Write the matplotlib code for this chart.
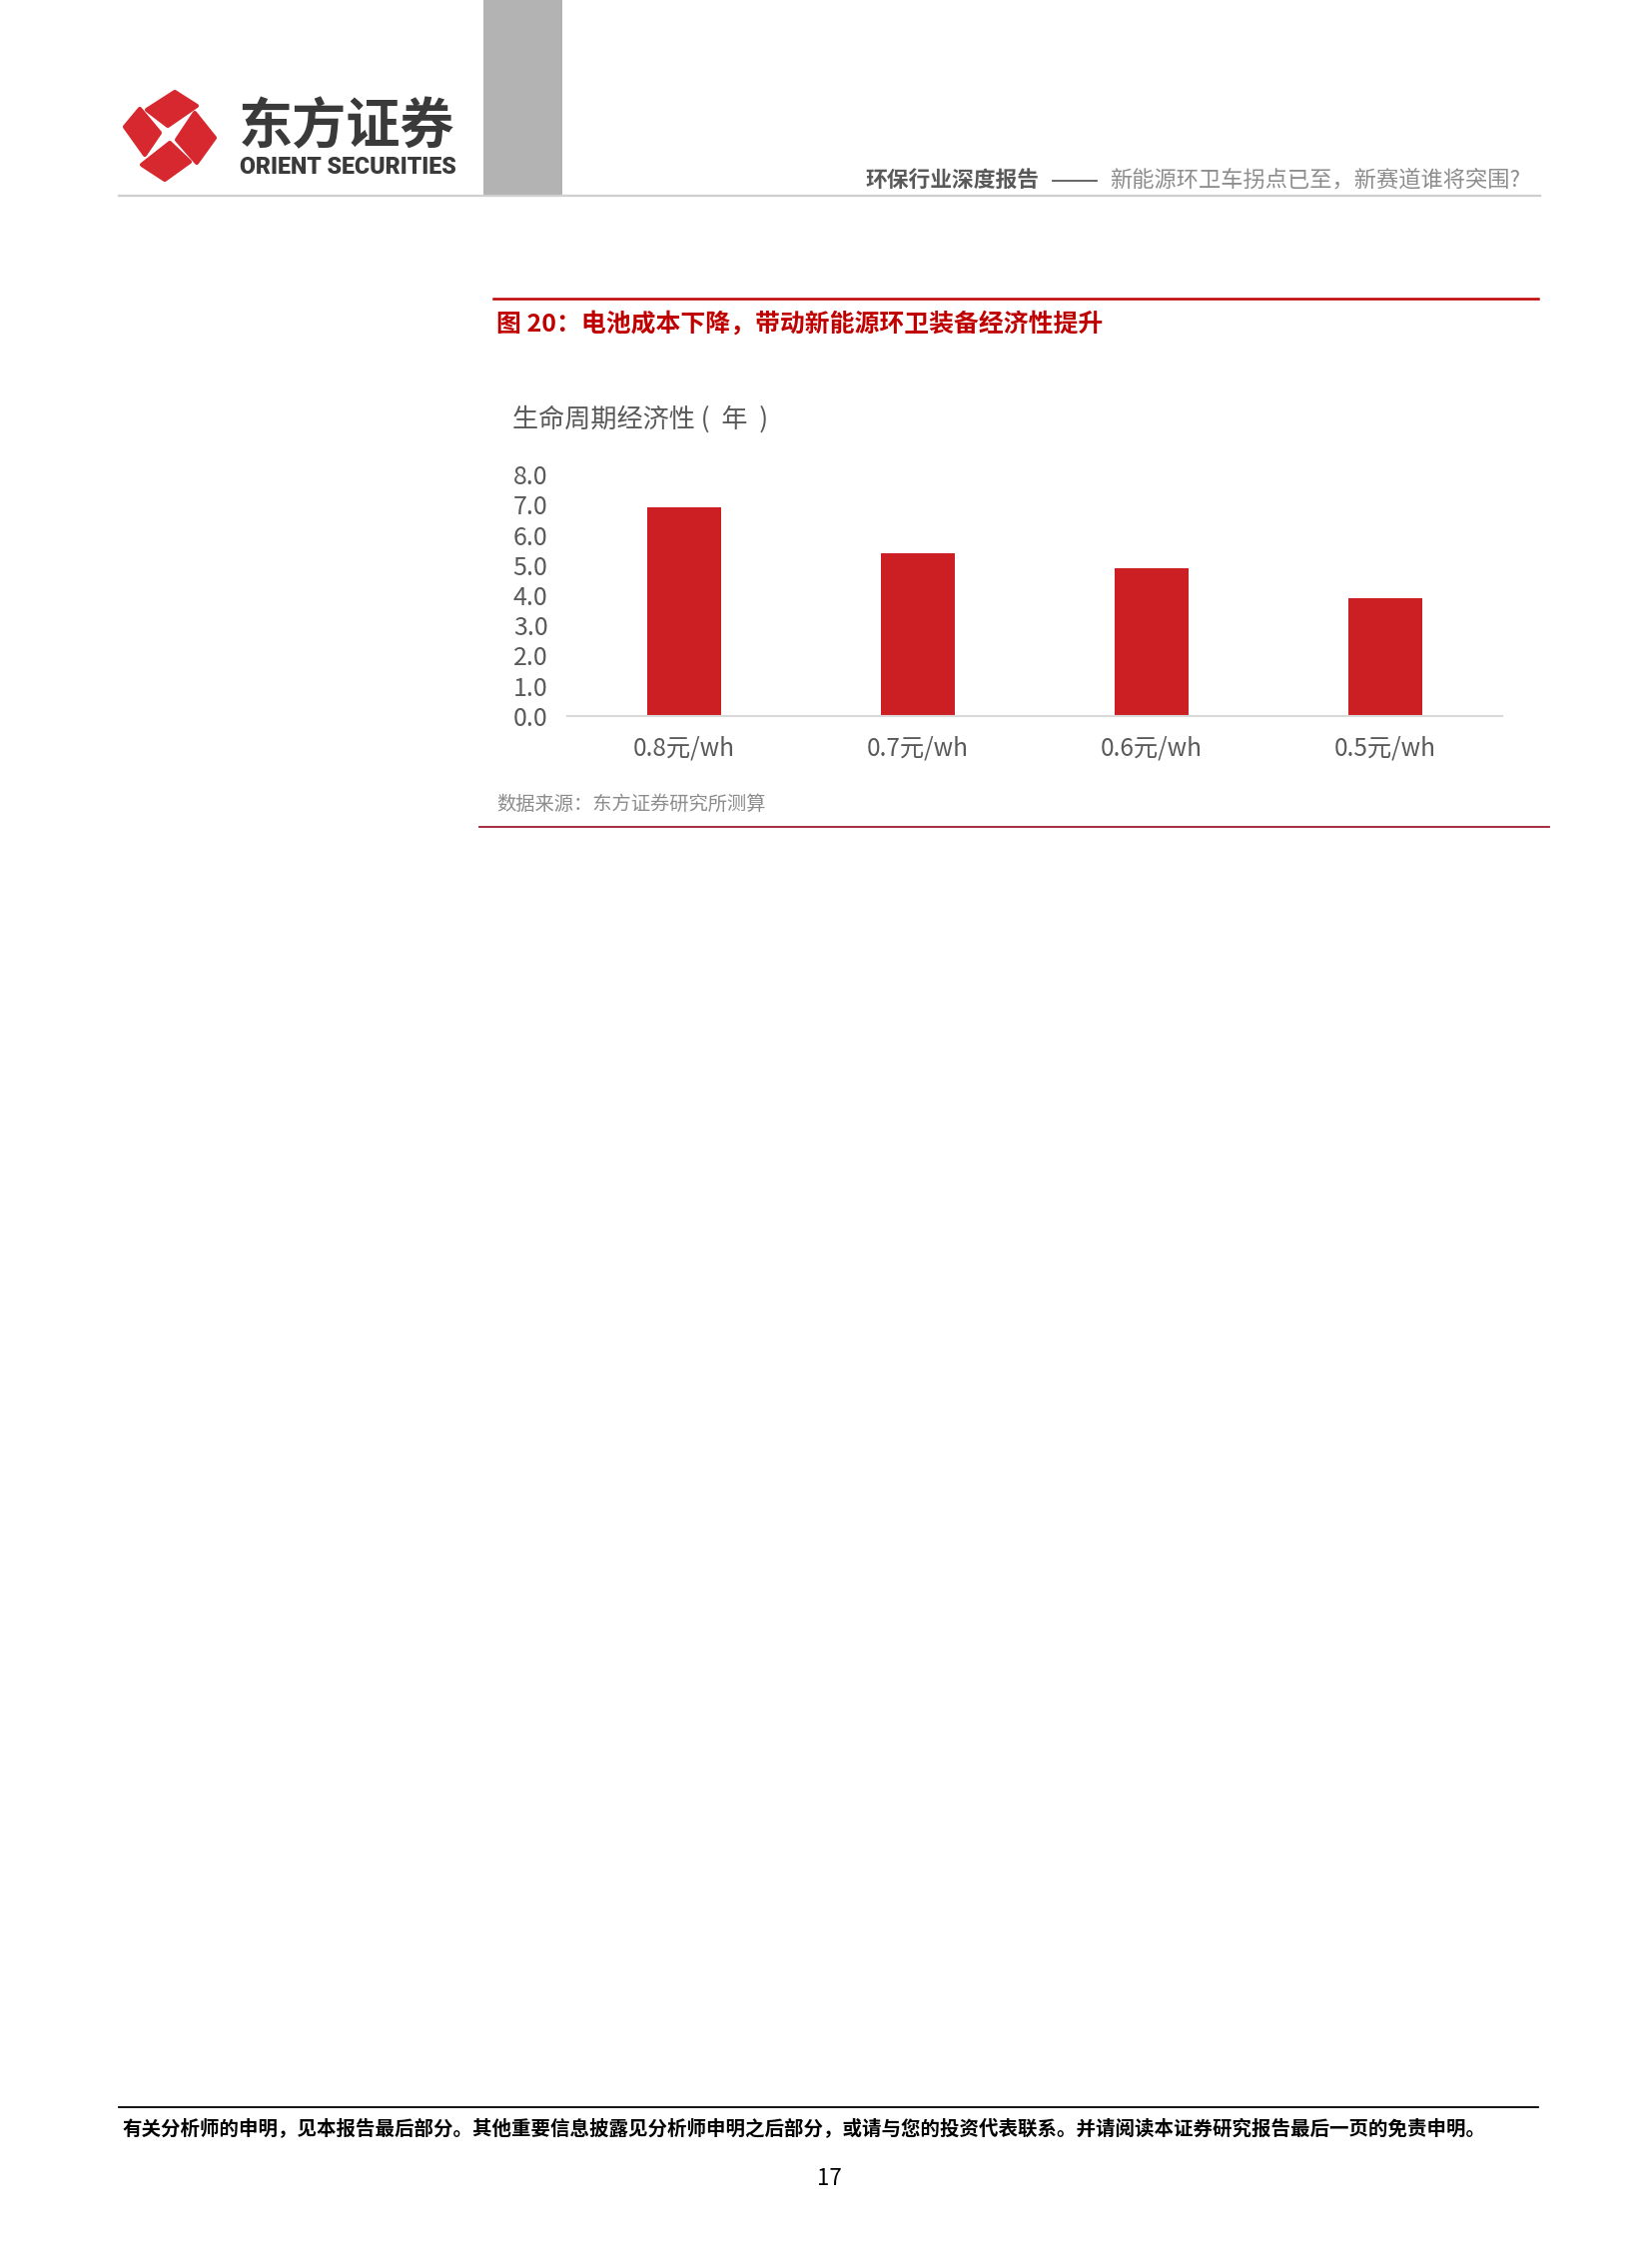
"""Page 17 chart: battery cost vs. lifecycle economics of new-energy sanitation vehicles (out.png)."""

import matplotlib
matplotlib.use("Agg")
import matplotlib.pyplot as plt
from matplotlib.patches import Polygon, Rectangle

plt.rcParams['font.family'] = ['Noto Sans CJK SC', 'DejaVu Sans']

# chart data
categories = ['0.8元/wh', '0.7元/wh', '0.6元/wh', '0.5元/wh']
payback_years = [6.9, 5.4, 4.9, 3.9]
y_ticks = [0.0, 1.0, 2.0, 3.0, 4.0, 5.0, 6.0, 7.0, 8.0]

W, H = 1654, 2245
RED = '#CC1F24'
DARK_RED = '#C00000'

# logo pinwheel pieces, page pixel coords
LOGO_PIECES = [
    [(147, 110), (175, 92), (197, 106), (168, 126)],   # top
    [(195, 113), (215, 138), (197, 163), (177, 140)],  # right
    [(170, 143), (190, 162), (165, 180), (142, 165)],  # bottom
    [(140, 109), (160, 133), (145, 155), (125, 127)],  # left
]


def draw_logo(ax):
    for pts in LOGO_PIECES:
        ax.add_patch(Polygon(pts, closed=True, facecolor='#D7282F',
                             edgecolor='#D7282F', linewidth=3, joinstyle='round'))


def main():
    fig = plt.figure(figsize=(W / 100, H / 100), dpi=100, facecolor='white')

    # page overlay in pixel coordinates
    page = fig.add_axes([0, 0, 1, 1])
    page.set_xlim(0, W)
    page.set_ylim(H, 0)
    page.axis('off')

    # header
    page.add_patch(Rectangle((484, 0), 79, 196, facecolor='#B3B3B3', edgecolor='none'))
    page.plot([119, 1542], [196, 196], color='#CFCFCF', linewidth=1.6)
    draw_logo(page)
    page.text(239, 128, '东方证券', fontsize=39, fontweight='heavy', color='#3A3A3A',
              ha='left', va='center')
    page.text(240, 167, 'ORIENT SECURITIES', fontsize=16.7, fontweight='heavy',
              color='#3A3A3A', ha='left', va='center', family='Roboto')
    page.text(866, 180, '环保行业深度报告', fontsize=15.7, fontweight='bold',
              color='#595959', ha='left', va='center')
    page.plot([1054, 1098], [181, 181], color='#595959', linewidth=1.3)
    page.text(1111, 180, '新能源环卫车拐点已至，新赛道谁将突围?', fontsize=16,
              color='#8C8C8C', ha='left', va='center')

    # figure caption block
    page.plot([494, 1540], [299, 299], color=DARK_RED, linewidth=1.8)
    page.text(497, 324, '图 20：电池成本下降，带动新能源环卫装备经济性提升', fontsize=17.9,
              fontweight='bold', color=DARK_RED, ha='left', va='center')
    page.text(513, 420, '生命周期经济性 (  年  )', fontsize=18.8, color='#595959',
              ha='left', va='center')
    page.text(497, 805, '数据来源：东方证券研究所测算', fontsize=13.9, color='#8C8C8C',
              ha='left', va='center')
    page.plot([480, 1551], [828, 828], color='#9B1B30', linewidth=1.3)

    # footer
    page.plot([119, 1540], [2110, 2110], color='black', linewidth=1.3)
    page.text(123, 2132, '有关分析师的申明，见本报告最后部分。其他重要信息披露见分析师申明之后部分，'
              '或请与您的投资代表联系。并请阅读本证券研究报告最后一页的免责申明。',
              fontsize=14, fontweight='bold', color='black', ha='left', va='center')
    page.text(830, 2181, '17', fontsize=16, color='black', ha='center', va='center')

    # bar chart
    left, right = 568, 1504
    bottom, top = 717, 475
    ax = fig.add_axes([left / W, 1 - bottom / H, (right - left) / W, (bottom - top) / H])
    ax.set_facecolor('none')
    x = range(len(categories))
    ax.bar(x, payback_years, width=0.316, color=RED)
    ax.set_xlim(-0.5, len(categories) - 0.5)
    ax.set_ylim(0, 8)
    ax.set_yticks(y_ticks)
    ax.set_yticklabels([f'{v:.1f}' for v in y_ticks])
    ax.set_xticks(list(x))
    ax.set_xticklabels(categories)
    ax.tick_params(axis='y', length=0, pad=14, labelsize=18, labelcolor='#595959')
    ax.tick_params(axis='x', length=0, pad=14, labelsize=17.5, labelcolor='#595959')
    for side in ['left', 'right', 'top']:
        ax.spines[side].set_visible(False)
    ax.spines['bottom'].set_color('#D9D9D9')
    ax.spines['bottom'].set_linewidth(1.5)

    fig.savefig('out.png', dpi=100, facecolor='white')


if __name__ == "__main__":
    main()
